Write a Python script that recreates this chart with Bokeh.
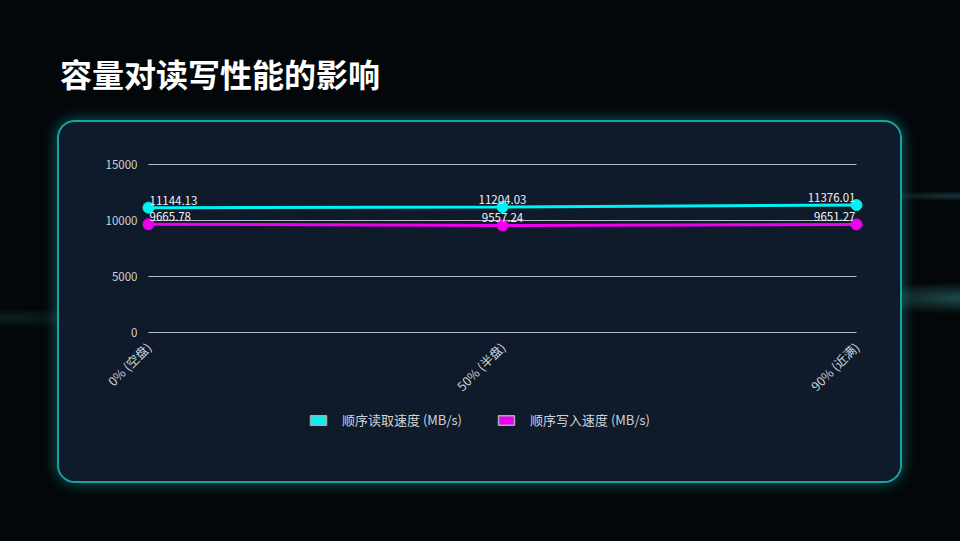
from bokeh.plotting import figure
from bokeh.models import (ColumnDataSource, Legend, LegendItem, FixedTicker, Range1d, Div, Column)
from bokeh.core.properties import value
from bokeh.embed import file_html
from bokeh.resources import INLINE
from math import pi

# ---------------- data ----------------
categories = ["0% (空盘)", "50% (半盘)", "90% (近满)"]
read_speed = [11144.13, 11204.03, 11376.01]
write_speed = [9665.78, 9557.24, 9651.27]
series_names = ["顺序读取速度 (MB/s)", "顺序写入速度 (MB/s)"]
y_ticks = [0, 5000, 10000, 15000]
title_text = "容量对读写性能的影响"

# ---------------- style ----------------
FONT = "Noto Sans CJK SC"
CYAN = "#00f2f2"
MAGENTA = "#f000f0"
BG = "#03070a"
CARD = "#0f1a2b"
GRID = "#cdd0d4"
TXT = "#cfd3d8"

n = len(categories)
xs = list(range(n))
px_per_unit = 354.0           # horizontal pixels between categories
py_per_unit = 56.0 / 5000.0   # vertical pixels per MB/s

CW = 841                      # card width
PH, LH = 288, 71              # chart part / legend part heights

p = figure(width=CW, height=PH, output_backend="svg", toolbar_location=None,
           x_range=Range1d(-7 / px_per_unit, (n - 1) + 20 / px_per_unit),
           y_range=Range1d(-6 / py_per_unit, 15000 + 8 / py_per_unit),
           min_border_left=82, min_border_right=24,
           min_border_top=34, min_border_bottom=PH - 216)
p.background_fill_color = CARD
p.border_fill_color = CARD
p.outline_line_color = None
p.xgrid.visible = False
p.ygrid.visible = False

# ---------------- grid lines from y ticks ----------------
p.segment(x0=[0] * len(y_ticks), x1=[n - 1] * len(y_ticks), y0=y_ticks, y1=y_ticks,
          line_color=GRID, line_width=1, line_alpha=0.9)

# ---------------- axes ----------------
p.yaxis.ticker = FixedTicker(ticks=y_ticks)
p.yaxis.axis_line_color = None
p.yaxis.major_tick_line_color = None
p.yaxis.minor_tick_line_color = None
p.yaxis.major_tick_out = 0
p.yaxis.major_tick_in = 0
p.yaxis.major_label_standoff = 4
p.yaxis.major_label_text_font = FONT
p.yaxis.major_label_text_font_size = "11.5px"
p.yaxis.major_label_text_color = TXT

p.xaxis.ticker = FixedTicker(ticks=xs)
p.xaxis.major_label_overrides = {i: c for i, c in enumerate(categories)}
p.xaxis.major_label_orientation = pi / 4
p.xaxis.axis_line_color = None
p.xaxis.major_tick_line_color = None
p.xaxis.minor_tick_line_color = None
p.xaxis.major_tick_out = 0
p.xaxis.major_tick_in = 0
p.xaxis.major_label_standoff = 6
p.xaxis.major_label_text_font = FONT
p.xaxis.major_label_text_font_size = "12.5px"
p.xaxis.major_label_text_color = TXT

# ---------------- legend part (frame aligned with the chart frame) ----------------
lf = figure(width=CW, height=LH, output_backend="svg", toolbar_location=None,
            x_axis_location=None, y_axis_location=None, min_border=0,
            x_range=Range1d(0, 1), y_range=Range1d(0, 1))
lf.background_fill_color = CARD
lf.border_fill_color = CARD
lf.outline_line_color = None
lf.xgrid.visible = False
lf.ygrid.visible = False

# ---------------- series ----------------
aligns = ["left" if i == 0 else ("right" if i == n - 1 else "center") for i in xs]
xoffs = [1 if i == 0 else (-1 if i == n - 1 else 0) for i in xs]
legend_items = []
for name, vals, col in [(series_names[0], read_speed, CYAN), (series_names[1], write_speed, MAGENTA)]:
    src = ColumnDataSource(dict(x=xs, y=vals, lbl=[f"{v:.2f}" for v in vals], al=aligns, xo=xoffs))
    p.line("x", "y", source=src, line_color=col, line_width=3)
    p.scatter("x", "y", source=src, size=11, fill_color=col, line_color=col)
    p.text("x", "y", text="lbl", source=src, text_align="al", text_baseline="bottom",
           x_offset="xo", y_offset=-3, text_font=value(FONT), text_font_size="11.5px",
           text_color="#f2f4f6")
    # legend swatch renderer: same series, outside the legend strip's own ranges
    box = lf.quad(left="x", right="x", top="y", bottom="y", source=src, fill_color=col,
                  line_color="#a8acb0", line_width=1.5)
    legend_items.append(LegendItem(label=name, renderers=[box]))

legend = Legend(items=legend_items, orientation="horizontal", location=(167, LH - 19),
                padding=0, margin=0, spacing=34, label_standoff=14,
                glyph_width=20, glyph_height=12, label_height=16,
                label_text_font=FONT, label_text_font_size="13px", label_text_color=TXT,
                border_line_color=None, background_fill_alpha=0)
lf.add_layout(legend, "center")

card = Column(children=[p, lf], width=CW, height=PH + LH, spacing=0, margin=(29, 0, 0, 59),
              styles={"border-radius": "16px", "overflow": "hidden", "background-color": CARD,
                      "box-shadow": "0 0 0 2px #17a3a3, 0 0 14px 3px rgba(24,184,176,0.45)"})

# ---------------- title ----------------
title = Div(text=title_text, width=700, height=40, margin=(53, 0, 0, 60),
            styles={"color": "#ffffff", "font-size": "32px", "font-weight": "bold",
                    "font-family": FONT, "line-height": "40px", "white-space": "nowrap"})

page = Column(children=[title, card], width=960, height=541, spacing=0,
              styles={"background": "radial-gradient(ellipse 110px 16px at 960px 298px, rgba(70,170,170,0.40), rgba(0,0,0,0)), "
                                    "radial-gradient(ellipse 90px 5px at 960px 196px, rgba(70,170,170,0.30), rgba(0,0,0,0)), "
                                    "radial-gradient(ellipse 140px 10px at 0px 318px, rgba(60,140,140,0.18), rgba(0,0,0,0)), "
                                    + BG})

open("out.html", "w").write(file_html(page, INLINE))
